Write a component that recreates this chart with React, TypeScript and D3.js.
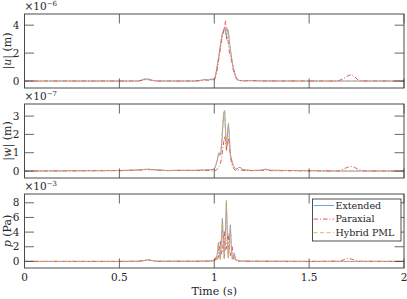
import { select, scaleLinear, line } from "d3";
import { useEffect, useRef } from "react";

// time grids (s) and series values
const tU = [0, 0.5, 0.6, 0.62, 0.64, 0.66, 0.68, 0.7, 0.9, 0.93, 0.95, 0.97, 0.99, 1.0, 1.01, 1.02, 1.03, 1.04, 1.05, 1.055, 1.06, 1.065, 1.07, 1.075, 1.08, 1.09, 1.1, 1.11, 1.12, 1.13, 1.15, 1.2, 1.25, 1.5, 1.65, 1.68, 1.7, 1.72, 1.74, 1.76, 1.8, 2.0];
const uExt = [0, 0, 0, 0.08, 0.15, 0.12, 0.03, 0, 0, 0.05, 0.1, 0.08, 0.15, 0.1, 0.6, 1.4, 2.3, 3.2, 3.7, 3.8, 3.4, 3.2, 3.75, 3.5, 2.8, 1.8, 1.0, 0.45, 0.15, 0.05, 0.02, 0.03, 0.01, 0, 0, 0, 0, 0, 0, 0, 0, 0];
const uPar = [0, 0, 0, 0.05, 0.1, 0.08, 0.02, 0, 0, 0.03, 0.08, 0.05, 0.1, 0.05, 0.4, 1.2, 2.1, 3.0, 3.6, 4.0, 4.3, 3.0, 3.2, 2.6, 2.0, 1.5, 0.8, 0.35, 0.1, 0.03, 0.01, 0.02, 0, 0, 0, 0.15, 0.35, 0.45, 0.3, 0.05, 0, 0];
const uHyb = [0, 0, 0, 0.1, 0.18, 0.12, 0.03, 0, 0, 0.05, 0.1, 0.08, 0.15, 0.12, 0.7, 1.5, 2.4, 3.3, 3.75, 3.7, 3.3, 3.4, 3.7, 3.4, 2.7, 1.7, 0.95, 0.4, 0.12, 0.04, 0.02, 0.03, 0.01, 0, 0, 0, 0, 0, 0, 0, 0, 0];

const tW = [0, 0.5, 0.55, 0.6, 0.65, 0.7, 0.75, 0.8, 0.9, 0.95, 0.98, 1.0, 1.01, 1.02, 1.025, 1.03, 1.035, 1.04, 1.045, 1.05, 1.055, 1.06, 1.065, 1.07, 1.075, 1.08, 1.085, 1.09, 1.095, 1.1, 1.11, 1.12, 1.13, 1.14, 1.15, 1.2, 1.25, 1.27, 1.3, 1.5, 1.65, 1.68, 1.7, 1.72, 1.74, 1.76, 1.8, 2.0];
const wExt = [0, 0.03, 0.04, 0.06, 0.1, 0.06, 0.03, 0.04, 0.04, 0.06, 0.08, 0.1, 0.35, 0.8, 1.0, 0.85, 1.0, 1.6, 2.4, 3.2, 3.3, 2.0, 1.2, 2.2, 2.6, 1.8, 0.9, 0.7, 0.5, 0.3, 0.15, 0.1, 0.2, 0.18, 0.08, 0.03, 0.05, 0.1, 0.04, 0.02, 0, 0, 0, 0, 0, 0, 0, 0];
const wPar = [0, 0.02, 0.03, 0.05, 0.08, 0.05, 0.02, 0.03, 0.03, 0.04, 0.02, 0, 0.05, 0.15, 0.25, 0.35, 0.5, 0.8, 1.2, 1.6, 1.9, 1.6, 1.1, 1.6, 1.8, 1.3, 0.8, 0.5, 0.3, 0.15, 0.05, 0.03, 0.08, 0.06, 0.03, 0.02, 0.03, 0.06, 0.02, 0.01, 0, 0.1, 0.2, 0.25, 0.2, 0.08, 0, 0];
const wHyb = [0, 0.03, 0.05, 0.07, 0.1, 0.06, 0.03, 0.04, 0.04, 0.06, 0.08, 0.1, 0.4, 0.85, 1.0, 0.9, 1.05, 1.7, 2.5, 3.3, 3.25, 1.9, 1.3, 2.3, 2.55, 1.7, 0.85, 0.72, 0.5, 0.3, 0.15, 0.12, 0.22, 0.18, 0.08, 0.03, 0.05, 0.1, 0.04, 0.02, 0, 0, 0, 0, 0, 0, 0, 0];

const tP = [0, 0.5, 0.6, 0.63, 0.65, 0.67, 0.7, 0.9, 0.97, 1.0, 1.005, 1.011, 1.017, 1.022, 1.027, 1.032, 1.038, 1.043, 1.048, 1.053, 1.059, 1.064, 1.069, 1.074, 1.08, 1.085, 1.09, 1.095, 1.101, 1.106, 1.111, 1.116, 1.125, 1.14, 1.2, 1.5, 1.66, 1.68, 1.7, 1.72, 1.74, 1.76, 2.0];
const pExt = [0, 0, 0.02, 0.1, 0.2, 0.1, 0.02, 0.02, 0.05, 0.1, 0.4, 0.2, 1.2, 2.6, 1.0, 0.3, 3.0, 5.9, 2.5, 0.4, 4.0, 8.3, 3.5, 0.5, 2.8, 5.0, 2.0, 0.3, 0.6, 1.1, 0.4, 0.1, 0.15, 0.05, 0.03, 0, 0, 0, 0, 0, 0, 0, 0];
const pPar = [0, 0, 0.02, 0.15, 0.25, 0.12, 0.02, 0.02, 0.03, 0.05, 0.2, 0.8, 0.3, 0.6, 1.8, 2.8, 1.0, 1.2, 3.0, 4.2, 1.5, 1.8, 3.2, 3.8, 1.2, 0.8, 1.6, 2.0, 0.5, 0.2, 0.5, 0.3, 0.05, 0.02, 0.02, 0, 0.05, 0.2, 0.4, 0.35, 0.15, 0.02, 0];
const pHyb = [0, 0, 0.02, 0.12, 0.25, 0.12, 0.02, 0.02, 0.05, 0.1, 0.45, 0.2, 1.3, 2.5, 1.0, 0.3, 3.1, 5.8, 2.4, 0.4, 4.1, 8.2, 3.4, 0.5, 2.9, 4.9, 1.9, 0.3, 0.6, 1.0, 0.4, 0.1, 0.15, 0.05, 0.03, 0, 0, 0, 0, 0, 0, 0, 0];

const xTicks = [0, 0.5, 1, 1.5, 2];
const xTickLabels = ["0", "0.5", "1", "1.5", "2"];
const uTicks = [0, 2, 4];
const wTicks = [0, 1, 2, 3];
const pTicks = [0, 2, 4, 6, 8];
const seriesNames = ["Extended", "Paraxial", "Hybrid PML"];

const COLORS = ["#5b9bd8", "#e8434e", "#f7a444"];
const DASHES = ["none", "4.5,2,1,2", "4,2.5"];
const FONT = "DejaVu Serif, serif";

const App = () => {
  const ref = useRef<SVGSVGElement>(null);

  useEffect(() => {
    const svg = select(ref.current);
    svg.selectAll("*").remove();

    const WIDTH = 407, HEIGHT = 299;
    const left = 24.5, right = 404;
    const x = scaleLinear().domain([0, 2]).range([left, right]);
    const tickLen = 9.5;

    svg.append("rect").attr("width", WIDTH).attr("height", HEIGHT).attr("fill", "#fff");

    const panels = [
      { top: 14, bottom: 88, dom: [-0.5, 4.8], ticks: uTicks, t: tU, ys: [uExt, uPar, uHyb], exp: "−6", label: "u", unit: "(m)", abs: true },
      { top: 104, bottom: 178, dom: [-0.38, 3.66], ticks: wTicks, t: tW, ys: [wExt, wPar, wHyb], exp: "−7", label: "w", unit: "(m)", abs: true },
      { top: 194, bottom: 268, dom: [-0.9, 9.2], ticks: pTicks, t: tP, ys: [pExt, pPar, pHyb], exp: "−3", label: "p", unit: "(Pa)", abs: false },
    ];

    panels.forEach((p, i) => {
      const y = scaleLinear().domain(p.dom).range([p.bottom, p.top]);
      const g = svg.append("g").style("font-family", FONT);

      const clipId = "clip" + i;
      svg.append("clipPath").attr("id", clipId)
        .append("rect").attr("x", left).attr("y", p.top).attr("width", right - left).attr("height", p.bottom - p.top);

      const lineGen = line<number>()
        .x((_, j) => x(p.t[j]))
        .y((d) => y(d));

      p.ys.forEach((vals, k) => {
        g.append("path")
          .attr("d", lineGen(vals))
          .attr("clip-path", `url(#${clipId})`)
          .attr("fill", "none")
          .attr("stroke", COLORS[k])
          .attr("stroke-width", 0.9)
          .attr("stroke-dasharray", DASHES[k]);
      });

      // ticks (inward, all four sides)
      xTicks.forEach((t) => {
        g.append("line").attr("x1", x(t)).attr("x2", x(t)).attr("y1", p.bottom).attr("y2", p.bottom - tickLen)
          .attr("stroke", "#262626").attr("stroke-width", 0.7);
        g.append("line").attr("x1", x(t)).attr("x2", x(t)).attr("y1", p.top).attr("y2", p.top + tickLen)
          .attr("stroke", "#262626").attr("stroke-width", 0.7);
      });
      p.ticks.forEach((v) => {
        g.append("line").attr("x1", left).attr("x2", left + tickLen).attr("y1", y(v)).attr("y2", y(v))
          .attr("stroke", "#262626").attr("stroke-width", 0.7);
        g.append("line").attr("x1", right).attr("x2", right - tickLen).attr("y1", y(v)).attr("y2", y(v))
          .attr("stroke", "#262626").attr("stroke-width", 0.7);
        g.append("text").attr("x", left - 5).attr("y", y(v)).attr("dy", "0.35em")
          .attr("text-anchor", "end").attr("font-size", 10.5).attr("fill", "#262626")
          .text(String(v));
      });

      g.append("rect").attr("x", left).attr("y", p.top).attr("width", right - left).attr("height", p.bottom - p.top)
        .attr("fill", "none").attr("stroke", "#4a4a4a").attr("stroke-width", 1);

      // exponent label
      const ex = g.append("text").attr("x", left).attr("y", p.top - 4.5)
        .attr("font-size", 10.5).attr("fill", "#262626");
      ex.append("tspan").text("×10");
      ex.append("tspan").attr("dy", -4).attr("font-size", 7).text(p.exp);

      // y label
      const cy = (p.top + p.bottom) / 2;
      const yl = g.append("text").attr("transform", `translate(10.5,${cy}) rotate(-90)`)
        .attr("text-anchor", "middle").attr("font-size", 11).attr("fill", "#262626");
      if (p.abs) {
        yl.append("tspan").text("|");
        yl.append("tspan").attr("font-style", "italic").text(p.label);
        yl.append("tspan").text("| " + p.unit);
      } else {
        yl.append("tspan").attr("font-style", "italic").text(p.label);
        yl.append("tspan").text(" " + p.unit);
      }

      if (i === panels.length - 1) {
        xTicks.forEach((t, j) => {
          g.append("text").attr("x", x(t)).attr("y", 281).attr("text-anchor", "middle")
            .attr("font-size", 10.5).attr("fill", "#262626").text(xTickLabels[j]);
        });
        g.append("text").attr("x", x(1)).attr("y", 295).attr("text-anchor", "middle")
          .attr("font-size", 11).attr("fill", "#262626").text("Time (s)");

        // legend
        const lg = g.append("g");
        lg.append("rect").attr("x", 312.5).attr("y", 199).attr("width", 88.5).attr("height", 42)
          .attr("fill", "#fff").attr("stroke", "#262626").attr("stroke-width", 0.8);
        seriesNames.forEach((name, k) => {
          const ly = 205.5 + k * 13.6;
          lg.append("line").attr("x1", 313.5).attr("x2", 334).attr("y1", ly).attr("y2", ly)
            .attr("stroke", COLORS[k]).attr("stroke-width", 0.9).attr("stroke-dasharray", DASHES[k]);
          lg.append("text").attr("x", 335.5).attr("y", ly).attr("dy", "0.35em")
            .attr("font-size", 9.5).attr("fill", "#262626").text(name);
        });
      }
    });
  });

  return (
    <svg ref={ref} width={407} height={299} style={{ position: "absolute", left: 0, top: 0 }} />
  );
};

export default App;
